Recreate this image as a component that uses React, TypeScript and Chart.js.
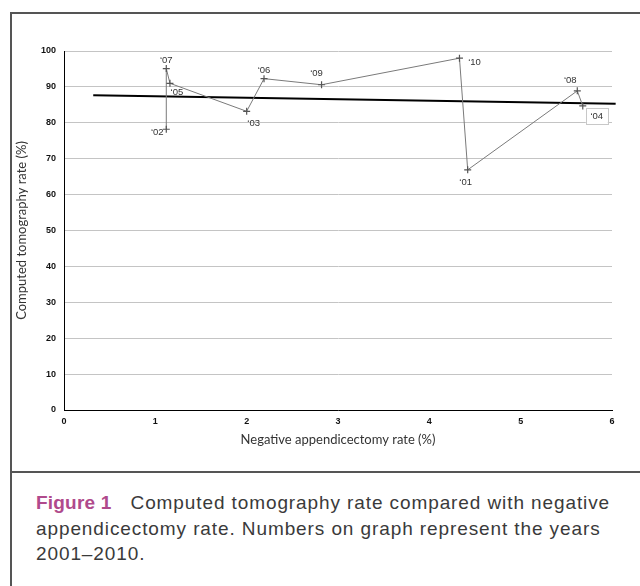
import React, { useEffect, useRef } from "react";
import { Chart, registerables } from "chart.js";

Chart.register(...registerables);

// Years (labels on graph)
const yearLabels = ["‘01", "‘02", "‘03", "‘04", "‘05", "‘06", "‘07", "‘08", "‘09", "‘10"];
// Negative appendicectomy rate (%)
const negAppRate = [4.42, 1.12, 2.0, 5.68, 1.16, 2.19, 1.12, 5.62, 2.82, 4.33];
// Computed tomography rate (%)
const ctRate = [66.9, 78.2, 83.2, 84.7, 91.0, 92.3, 95.1, 88.9, 90.6, 98.0];
// Trend line end points
const trendX = [0.32, 6.04];
const trendY = [87.7, 85.3];
// Axis ticks
const xTicks = [0, 1, 2, 3, 4, 5, 6];
const yTicks = [0, 10, 20, 30, 40, 50, 60, 70, 80, 90, 100];

// label placement relative to the marker (style only)
const labelOffsets: [number, number][] = [
  [-2, 13], [-9, 3], [7, 12], [14, 10], [7, 9], [0, -8], [0, -8], [-7, -10], [-5, -11], [15, 4],
];
const boxedLabel = "‘04";

export default function App() {
  const ref = useRef<HTMLCanvasElement>(null);

  useEffect(() => {
    if (!ref.current) return;
    const pts = negAppRate
      .map((x, i) => ({ x, y: ctRate[i], label: yearLabels[i], off: labelOffsets[i] }))
      .sort((a, b) => a.x - b.x);

    const labelPlugin = {
      id: "yearLabels",
      afterDatasetsDraw(chart: any) {
        const meta = chart.getDatasetMeta(0);
        const ctx = chart.ctx;
        ctx.save();
        ctx.font = "9.5px 'Liberation Sans', Arial, sans-serif";
        ctx.fillStyle = "#333";
        ctx.textAlign = "center";
        ctx.textBaseline = "middle";
        meta.data.forEach((el: any, i: number) => {
          const p = pts[i];
          const tx = el.x + p.off[0];
          const ty = el.y + p.off[1];
          if (p.label === boxedLabel) {
            ctx.fillStyle = "#fff";
            ctx.fillRect(tx - 11, ty - 8, 22, 16);
            ctx.strokeStyle = "#c8c8c8";
            ctx.lineWidth = 1;
            ctx.strokeRect(Math.round(tx - 11) + 0.5, Math.round(ty - 8) + 0.5, 22, 16);
            ctx.fillStyle = "#333";
          }
          ctx.fillText(p.label, tx, ty);
        });
        ctx.restore();
      },
    };

    const tickFont = { family: "'Liberation Sans', Arial, sans-serif", size: 9, weight: "bold" as const };
    const titleFont = { family: "Lato, 'Open Sans', sans-serif", size: 13 };

    const chart = new Chart(ref.current, {
      type: "scatter",
      data: {
        datasets: [
          {
            data: pts.map((p) => ({ x: p.x, y: p.y })),
            showLine: true,
            borderColor: "#7a7a7a",
            borderWidth: 1,
            pointStyle: "cross",
            pointRadius: 3.5,
            pointBorderColor: "#555",
            pointBorderWidth: 1.2,
            pointBackgroundColor: "#555",
          },
          {
            data: trendX.map((x, i) => ({ x, y: trendY[i] })),
            showLine: true,
            borderColor: "#000",
            borderWidth: 2,
            pointRadius: 0,
            clip: false as any,
          },
        ],
      },
      options: {
        animation: false,
        responsive: false,
        maintainAspectRatio: false,
        layout: { padding: { left: 0, right: 28, top: 51, bottom: 12 } },
        plugins: { legend: { display: false }, tooltip: { enabled: false } },
        scales: {
          x: {
            type: "linear",
            min: 0,
            max: 6,
            afterBuildTicks: (s: any) => {
              s.ticks = xTicks.map((v) => ({ value: v }));
            },
            afterFit: (s: any) => {
              s.height = 50;
            },
            grid: { display: false, drawTicks: false },
            border: { display: true, color: "#000", width: 1 },
            ticks: { font: tickFont, color: "#111", padding: 6 },
            title: {
              display: true,
              text: "Negative appendicectomy rate (%)",
              font: titleFont,
              color: "#333",
              padding: { top: 0, bottom: 12 },
            },
          },
          y: {
            type: "linear",
            min: 0,
            max: 100,
            afterBuildTicks: (s: any) => {
              s.ticks = yTicks.map((v) => ({ value: v }));
            },
            afterFit: (s: any) => {
              s.width = 64;
            },
            grid: { color: "#c4c4c4", lineWidth: 1, drawTicks: false },
            border: { display: true, color: "#000", width: 1 },
            ticks: { font: tickFont, color: "#111", padding: 8 },
            title: {
              display: true,
              text: "Computed tomography rate (%)",
              font: titleFont,
              color: "#333",
              padding: { top: 14, bottom: 0 },
            },
          },
        },
      },
      plugins: [labelPlugin],
    });
    return () => chart.destroy();
  }, []);

  return (
    <div style={{ position: "fixed", left: 0, top: 0, width: 640, height: 586, background: "#fff", overflow: "hidden" }}>
      <div
        style={{
          position: "absolute",
          left: 10,
          top: 12,
          width: 660,
          height: 600,
          borderLeft: "2px solid #555",
          borderTop: "2px solid #555",
          boxSizing: "border-box",
        }}
      />
      <div style={{ position: "absolute", left: 10, top: 471, width: 640, height: 2, background: "#555" }} />
      <canvas ref={ref} width={640} height={472} style={{ position: "absolute", left: 0, top: 0, width: 640, height: 472 }} />
      <div
        style={{
          position: "absolute",
          left: 36,
          top: 490,
          width: 620,
          whiteSpace: "nowrap",
          fontFamily: "'Liberation Sans', Arial, sans-serif",
          fontSize: 19,
          letterSpacing: "0.9px",
          lineHeight: "25.5px",
          color: "#3a3a3a",
        }}
      >
        <span style={{ color: "#b04a8c", fontWeight: "bold", letterSpacing: "0.2px" }}>Figure 1</span>
        <span style={{ display: "inline-block", width: 19 }} />
        Computed tomography rate compared with negative
        <br />
        appendicectomy rate. Numbers on graph represent the years
        <br />
        2001–2010.
      </div>
    </div>
  );
}
